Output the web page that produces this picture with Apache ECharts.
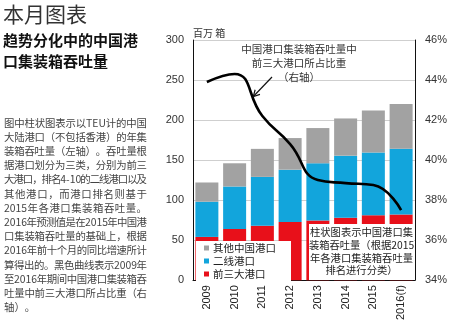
<!DOCTYPE html>
<html><head><meta charset="utf-8">
<script src="https://cdn.jsdelivr.net/npm/echarts@6/dist/echarts.min.js"></script>
<style>html,body{margin:0;padding:0;background:#fff}#c{width:450px;height:323px}</style>
</head><body><div id="c"></div>
<script>
const categories = ['2009','2010','2011','2012','2013','2014','2015','2016(f)'];
const top3Ports = [54, 64, 68, 72.5, 74.6, 78, 81, 82];
const secondTierPorts = [44, 53, 61, 65.5, 71.4, 77.5, 78.6, 82];
const otherPorts = [24, 29, 35, 39.5, 44, 46.5, 52.4, 56];
const top3Share = [43.9, 44.3, 42.2, 40.8, 39.0, 38.85, 38.75, 37.5];
const leftAxis = {min: 0, max: 300, interval: 50};
const rightAxis = {min: 34, max: 46, interval: 2};

const seriesNames = ['其他中国港口', '二线港口', '前三大港口'];
const title = '本月图表';
const subtitleLines = ['趋势分化中的中国港', '口集装箱吞吐量'];
const bodyLines = [
  '图中柱状图表示以TEU计的中国',
  '大陆港口（不包括香港）的年集',
  '装箱吞吐量（左轴）。吞吐量根',
  '据港口划分为三类，分别为前三',
  '大港口，排名4-10的二线港口以及',
  '其他港口，而港口排名则基于',
  '2015年各港口集装箱吞吐量。',
  '2016年预测值是在2015年中国港',
  '口集装箱吞吐量的基础上，根据',
  '2016年前十个月的同比增速所计',
  '算得出的。黑色曲线表示2009年',
  '至2016年期间中国港口集装箱吞',
  '吐量中前三大港口所占比重（右',
  '轴）。'
];
const lineNote = ['中国港口集装箱吞吐量中', '前三大港口所占比重', '（右轴）'];
const barNote = ['柱状图表示中国港口集', '装箱吞吐量（根据2015', '年各港口集装箱吞吐量', '排名进行分类）'];
const unitLabel = '百万 箱';

const CJK = '"Noto Sans CJK SC", "Noto Sans", sans-serif';
const LAT = '"Liberation Sans", Arial, sans-serif';
const RED = '#e8101a', BLUE = '#12a5dc', GRAY = '#a2a2a2';

const chart = echarts.init(document.getElementById('c'), null, {renderer: 'canvas'});

// justified body text
const mctx = document.createElement('canvas').getContext('2d');
function justified(str, x0, x1, y, size, justify) {
  const font = size + 'px ' + CJK;
  mctx.font = font;
  const toks = str.match(/[A-Za-z0-9\-]+|./gu);
  const widths = toks.map(t => mctx.measureText(t).width);
  const total = widths.reduce((a, b) => a + b, 0);
  const gap = justify && toks.length > 1 ? (x1 - x0 - total) / (toks.length - 1) : 0;
  const out = [];
  let x = x0;
  toks.forEach((t, i) => {
    out.push({type: 'text', x: x, y: y, silent: true,
      style: {text: t, fontSize: size, fontFamily: CJK, fill: '#444', textVerticalAlign: 'middle', textAlign: 'left'}});
    x += widths[i] + gap;
  });
  return out;
}

const graphics = [];
graphics.push({type: 'text', x: 3, y: 14, style: {text: title, fontSize: 21, fontFamily: CJK, fill: '#333', textVerticalAlign: 'middle'}});
subtitleLines.forEach((s, i) => graphics.push({type: 'text', x: 3, y: 40 + i * 21.5,
  style: {text: s, fontSize: 15, fontWeight: 'bold', fontFamily: CJK, fill: '#111', textVerticalAlign: 'middle'}}));
bodyLines.forEach((s, i) => {
  justified(s, 4, 147, 122.7 + i * 14.2, 10.4, i < bodyLines.length - 1).forEach(g => graphics.push(g));
});
graphics.push({type: 'text', x: 193, y: 33, style: {text: unitLabel, fontSize: 10, fontFamily: CJK, fill: '#333', textVerticalAlign: 'middle'}});
lineNote.forEach((s, i) => graphics.push({type: 'text', x: 299, y: 49 + i * 14, z: 10,
  style: {text: s, fontSize: 10.5, fontFamily: CJK, fill: '#333', textAlign: 'center', textVerticalAlign: 'middle'}}));
// arrow
const tail = [272, 77], head = [253.3, 96.5];
const ang = Math.atan2(head[1] - tail[1], head[0] - tail[0]);
const al = 7, aw = 0.5;
graphics.push({type: 'polyline', z: 10, shape: {points: [tail, head]}, style: {stroke: '#111', lineWidth: 1.2}});
graphics.push({type: 'polyline', z: 10, shape: {points: [
  [head[0] - al * Math.cos(ang - aw), head[1] - al * Math.sin(ang - aw)], head,
  [head[0] - al * Math.cos(ang + aw), head[1] - al * Math.sin(ang + aw)]]}, style: {stroke: '#111', lineWidth: 1.2, fill: null}});
// bar note box
graphics.push({type: 'rect', z: 10, shape: {x: 309, y: 224, width: 105, height: 56}, style: {fill: '#fff'}});
barNote.forEach((s, i) => graphics.push({type: 'text', z: 11, x: 361.5, y: 232 + i * 12.8,
  style: {text: s, fontSize: 10.3, fontFamily: CJK, fill: '#222', textAlign: 'center', textVerticalAlign: 'middle'}}));

chart.setOption({
  animation: false,
  backgroundColor: '#fff',
  grid: {left: 193, right: 34, top: 40, bottom: 42},
  legend: {
    data: seriesNames, orient: 'vertical', left: 196, top: 241,
    backgroundColor: '#fff', padding: [1, 15, 2, 8], itemGap: 1,
    itemWidth: 5, itemHeight: 5, icon: 'rect',
    textStyle: {fontSize: 10.5, fontFamily: CJK, color: '#222', lineHeight: 12, padding: [0, 0, 0, -1]},
    z: 9
  },
  xAxis: {
    type: 'category', data: categories,
    axisLine: {lineStyle: {color: '#111', width: 1}}, axisTick: {show: false},
    axisLabel: {rotate: 90, fontSize: 11, fontFamily: LAT, color: '#222', margin: 5}
  },
  yAxis: [
    {type: 'value', min: leftAxis.min, max: leftAxis.max, interval: leftAxis.interval,
     axisLine: {show: true, lineStyle: {color: '#111'}}, axisTick: {show: false},
     axisLabel: {fontSize: 11, fontFamily: LAT, color: '#333', margin: 9},
     splitLine: {lineStyle: {color: '#cfcfcf'}}},
    {type: 'value', min: rightAxis.min, max: rightAxis.max, interval: rightAxis.interval,
     axisLine: {show: true, lineStyle: {color: '#111'}}, axisTick: {show: false},
     axisLabel: {fontSize: 11, fontFamily: LAT, color: '#333', margin: 10, formatter: '{value}%'},
     splitLine: {show: false}}
  ],
  series: [
    {name: seriesNames[2], type: 'bar', stack: 'a', data: top3Ports, barWidth: 23, itemStyle: {color: RED}},
    {name: seriesNames[1], type: 'bar', stack: 'a', data: secondTierPorts, barWidth: 23, itemStyle: {color: BLUE}},
    {name: seriesNames[0], type: 'bar', stack: 'a', data: otherPorts, barWidth: 23, itemStyle: {color: GRAY}},
    {name: 'share', type: 'line', yAxisIndex: 1, data: top3Share, smooth: 0.5, showSymbol: false, symbol: 'none',
     lineStyle: {color: '#000', width: 2.6}, z: 5}
  ],
  graphic: graphics
});
</script></body></html>
